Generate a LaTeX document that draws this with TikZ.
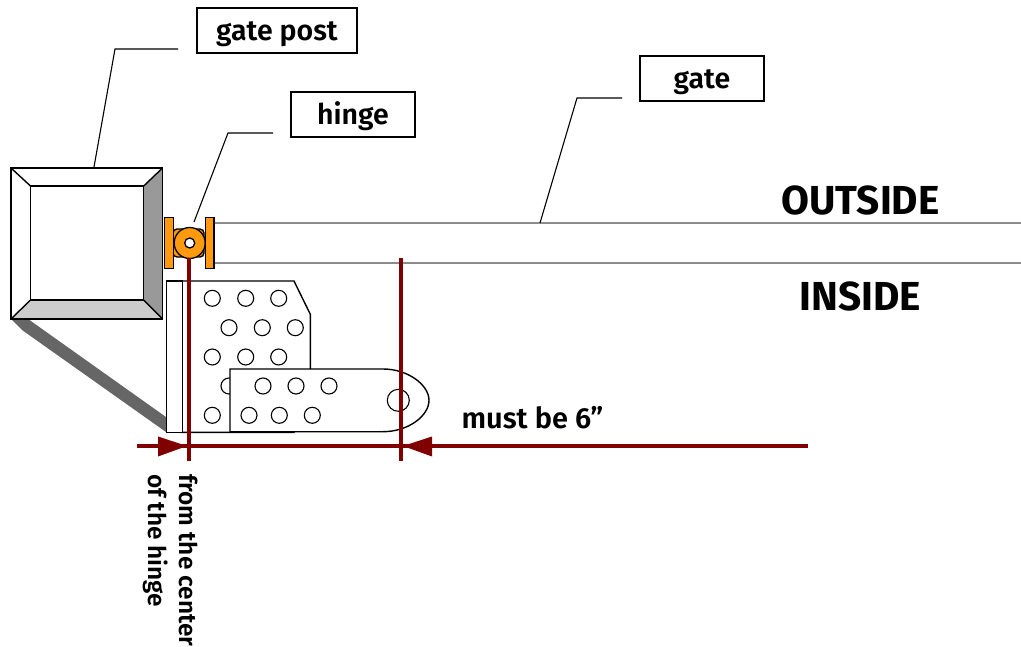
\documentclass[tikz,border=0pt]{standalone}
\usepackage{fontspec}
\setmainfont[BoldFont={Fira Sans SemiBold}]{Fira Sans}
\newfontfamily\heavyfont{Fira Sans}
\definecolor{darkred}{HTML}{800000}
\definecolor{hingeorange}{HTML}{FF9910}
\tikzset{
  outline/.style={draw=black,line width=1.4pt,line join=miter},
  labelbox/.style={draw=black,fill=white,line width=1.2pt,inner sep=0pt,text height=21pt,text depth=0pt,font=\fontsize{28.5}{30}\selectfont\bfseries},
  leader/.style={draw=black,line width=1.1pt},
  hole/.style={circle,draw=black,fill=white,line width=1.1pt,minimum size=16pt,inner sep=0pt},
  redline/.style={draw=darkred,line width=3.4pt},
  redtip/.style={fill=darkred,draw=none},
  gateedge/.style={draw=black!45,line width=1.2pt},
  sidetext/.style={font=\heavyfont\fontsize{40.5}{44}\selectfont\bfseries,inner sep=0pt},
  dimtext/.style={font=\fontsize{29}{34}\selectfont\bfseries,inner sep=0pt},
  turntext/.style={font=\fontsize{24.4}{34}\selectfont\bfseries,inner sep=0pt,rotate=-90,anchor=west},
}
\begin{document}
\begin{tikzpicture}[x=1pt,y=-1pt]
\useasboundingbox (0,0) rectangle (1021,647);
% gate edges
\coordinate (gatetl) at (214,223);\coordinate (gatetr) at (1021,223);
\coordinate (gatebl) at (214,263);\coordinate (gatebr) at (1021,263);
\draw[gateedge] (gatetl) -- (gatetr);
\draw[gateedge] (gatebl) -- (gatebr);
% shadow strip
\fill[black!60] (11,319) -- (28,319) -- (166,417) -- (166,432) -- (22,330) -- cycle;
% post
\fill[white] (11,168) rectangle (162.5,319);
\fill[black!40] (162.5,168) -- (143.7,186) -- (143.7,300) -- (162.5,319) -- cycle;
\fill[black!20] (11,319) -- (30.5,300) -- (143.7,300) -- (162.5,319) -- cycle;
\draw[outline] (11,168) rectangle (162.5,319);
\draw[outline] (30.5,186) rectangle (143.7,300);
\draw[outline] (11,168) -- (30.5,186) (162.5,168) -- (143.7,186) (11,319) -- (30.5,300) (162.5,319) -- (143.7,300);
% hinge
\draw[outline,fill=hingeorange,rounded corners=4pt] (173,229) rectangle (204,257);
\draw[outline,fill=hingeorange] (164.7,217.3) rectangle (173.3,268.3);
\draw[outline,fill=hingeorange] (205.3,217.3) rectangle (214,268.3);
\node[circle,draw=black,fill=hingeorange,line width=1.3pt,minimum size=31pt,inner sep=0pt] (hingering) at (189.7,243) {};
\node[circle,draw=black,fill=white,line width=1.3pt,minimum size=10pt,inner sep=0pt] (hingehole) at (189.7,243) {};
% plate
\draw[outline,fill=white] (182,281) -- (294,281) -- (310.3,314.3) -- (310.3,380) -- (294,432.3) -- (182,432.3) -- cycle;
\draw[outline,fill=white,draw=black,line width=1.1pt] (166.7,281) rectangle (182.3,432.3);
\foreach \px/\py in {212.3/298.3,245.7/298.3,278.7/298.3,229/327.7,262.3/327.7,295.3/327.7,212.3/357,245.7/357,278.7/357,229/386,212.3/415.3}
  \node[hole] at (\px,\py) {};
% strap
\draw[outline,fill=white] (230,369) -- (383,369) .. controls (408,369) and (429,385) .. (429,400.3) .. controls (429,416) and (408,431.7) .. (383,431.7) -- (230,431.7) -- cycle;
\foreach \px/\py in {263/386,296/386,329/386,249/415.3,279.3/415.3,312.3/415.3}
  \node[hole] at (\px,\py) {};
\node[hole,minimum size=22pt] (straphole) at (398.3,400.3) {};
% dimension lines
\coordinate (vatop) at (189,258);\coordinate (vabot) at (189,461);
\coordinate (vbtop) at (401,258);\coordinate (vbbot) at (401,461);
\coordinate (hl) at (137,446);\coordinate (hr) at (808,446);
\draw[redline] (vatop) -- (vabot);
\draw[redline] (vbtop) -- (vbbot);
\draw[redline] (hl) -- (hr);
\fill[redtip] (187,446) -- (158,436.5) -- (158,456.5) -- cycle;
\fill[redtip] (403,446) -- (432,436.5) -- (432,456.5) -- cycle;
% labels
\node[labelbox,minimum width=160pt,minimum height=45pt] (postlabel) at (277,30.5) {gate post};
\node[labelbox,minimum width=124pt,minimum height=45pt] (hingelabel) at (353,114.5) {hinge};
\node[labelbox,minimum width=124pt,minimum height=45pt] (gatelabel) at (702,78.5) {gate};
% leaders
\coordinate (la1) at (178,49);\coordinate (la2) at (115,49);\coordinate (la3) at (94,167);
\coordinate (lb1) at (273,133);\coordinate (lb2) at (228,133);\coordinate (lb3) at (194,222);
\coordinate (lc1) at (622,98);\coordinate (lc2) at (577,98);\coordinate (lc3) at (540,223);
\draw[leader] (la1) -- (la2) -- (la3);
\draw[leader] (lb1) -- (lb2) -- (lb3);
\draw[leader] (lc1) -- (lc2) -- (lc3);
% texts
\node[sidetext] (outside) at (860.5,200) {OUTSIDE};
\node[sidetext] (inside) at (860.5,296) {INSIDE};
\node[dimtext] (must) at (532.5,418) {must be 6”};
\node[turntext] (centertext) at (189,474) {from the center};
\node[turntext] (hingetext) at (155.5,474) {of the hinge};
\end{tikzpicture}
\end{document}
